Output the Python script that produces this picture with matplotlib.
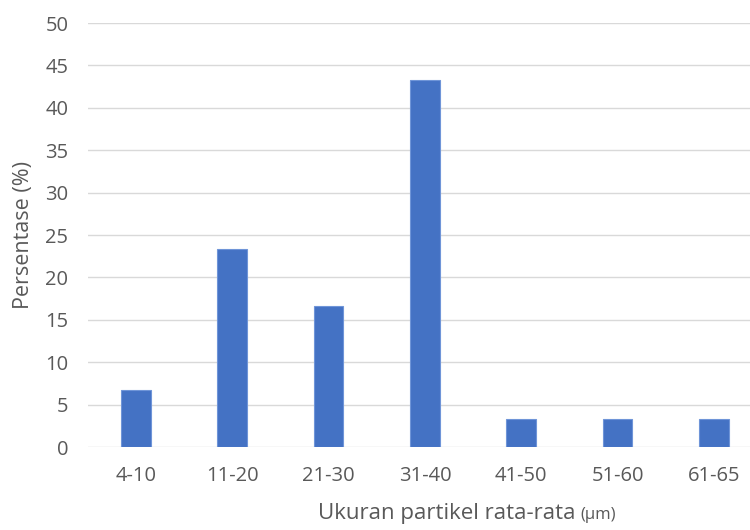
import matplotlib.pyplot as plt

plt.rcParams['font.family'] = ['Open Sans', 'DejaVu Sans']

ukuran = ["4-10", "11-20", "21-30", "31-40", "41-50", "51-60", "61-65"]
persen = [6.67, 23.33, 16.67, 43.33, 3.33, 3.33, 3.33]

grey = "#595959"

fig = plt.figure(figsize=(7.5, 5.3), dpi=100)
ax = fig.add_axes([0.117, 0.1566, 0.899, 0.80])

ax.bar(range(len(ukuran)), persen, width=0.31, color="#4472C4",
       edgecolor="#6f95d8", linewidth=0.8, zorder=3)

ax.set_xlim(-0.5, len(ukuran) - 0.5)
ax.set_ylim(0, 50)
ax.set_yticks(range(0, 51, 5))
ax.set_xticks(range(len(ukuran)))
ax.set_xticklabels(ukuran)
ax.grid(axis="y", color="#d9d9d9", linewidth=1, zorder=0)
ax.tick_params(length=0, labelsize=14.5, colors=grey)
ax.tick_params(axis="x", pad=14)
ax.tick_params(axis="y", pad=14)
for s in ax.spines.values():
    s.set_visible(False)

ax.set_ylabel("Persentase (%)", fontsize=15.5, color=grey, labelpad=8)

# x label: main text, then the unit in a smaller size right after it
t = fig.text(318 / 750, 0.012, "Ukuran partikel rata-rata", fontsize=16,
             color=grey, ha="left", va="bottom")
fig.canvas.draw()
bb = t.get_window_extent()
fig.text((bb.x1 + 5) / fig.bbox.width, 0.014, "(\u00b5m)", fontsize=12,
         color=grey, ha="left", va="bottom")

fig.savefig("out.png", dpi=100)
